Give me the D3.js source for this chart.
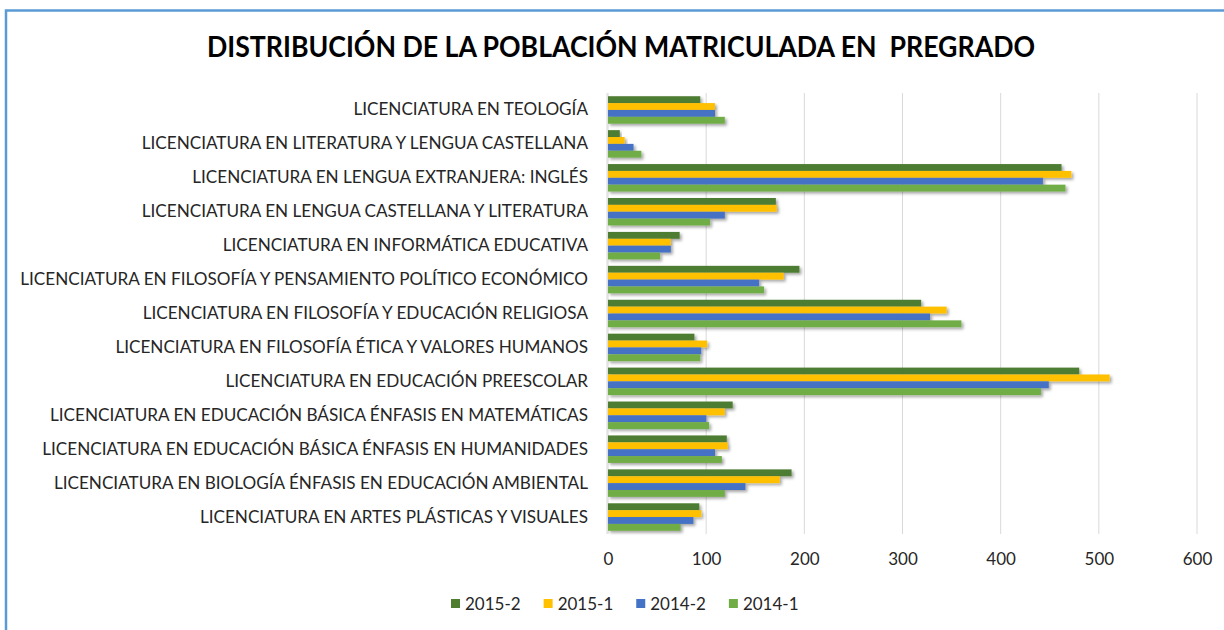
<!DOCTYPE html>
<html>
<head>
<meta charset="utf-8">
<title>Distribución de la población matriculada en pregrado</title>
<script src="https://cdn.jsdelivr.net/npm/d3@7"></script>
<style>
  body { margin: 0; background: #fff; }
  text { font-family: Lato, "Open Sans", sans-serif; fill: #262626; }
</style>
</head>
<body>
<svg id="chart"></svg>
<script>
  var categories = [
    'LICENCIATURA EN TEOLOGÍA',
    'LICENCIATURA EN LITERATURA Y LENGUA CASTELLANA',
    'LICENCIATURA EN LENGUA EXTRANJERA: INGLÉS',
    'LICENCIATURA EN LENGUA CASTELLANA Y LITERATURA',
    'LICENCIATURA EN INFORMÁTICA EDUCATIVA',
    'LICENCIATURA EN FILOSOFÍA Y PENSAMIENTO POLÍTICO ECONÓMICO',
    'LICENCIATURA EN FILOSOFÍA Y EDUCACIÓN RELIGIOSA',
    'LICENCIATURA EN FILOSOFÍA ÉTICA Y VALORES HUMANOS',
    'LICENCIATURA EN EDUCACIÓN PREESCOLAR',
    'LICENCIATURA EN EDUCACIÓN BÁSICA ÉNFASIS EN MATEMÁTICAS',
    'LICENCIATURA EN EDUCACIÓN BÁSICA ÉNFASIS EN HUMANIDADES',
    'LICENCIATURA EN BIOLOGÍA ÉNFASIS EN EDUCACIÓN AMBIENTAL',
    'LICENCIATURA EN ARTES PLÁSTICAS Y VISUALES'
  ];
  var seriesNames = ['2015-2', '2015-1', '2014-2', '2014-1'];
  var v2015_2 = [94, 12, 462, 171, 73, 195, 319, 88, 480, 127, 121, 187, 93];
  var v2015_1 = [109, 17, 472, 172, 64, 179, 345, 101, 511, 119, 122, 175, 95];
  var v2014_2 = [109, 26, 443, 119, 64, 154, 328, 95, 449, 100, 109, 140, 87];
  var v2014_1 = [119, 34, 466, 104, 53, 159, 360, 94, 441, 103, 116, 119, 74];
  var xTicks = [0, 100, 200, 300, 400, 500, 600];
  var colors = ['#4E7D30', '#FFC000', '#4472C4', '#70AD47'];

  var series = [v2015_2, v2015_1, v2014_2, v2014_1];

  var width = 1224, height = 630;
  var plot = { left: 608, right: 1197, top: 93, bottom: 534 };

  var svg = d3.select('#chart')
    .attr('width', width)
    .attr('height', height);

  var defs = svg.append('defs');
  var f = defs.append('filter').attr('id', 'shadow')
    .attr('x', '-5%').attr('y', '-50%').attr('width', '120%').attr('height', '250%');
  f.append('feDropShadow')
    .attr('dx', 2).attr('dy', 2)
    .attr('stdDeviation', 1.5)
    .attr('flood-color', '#000')
    .attr('flood-opacity', 0.35);

  // chart border (only top and left edges visible)
  svg.append('rect')
    .attr('x', 6).attr('y', 10.5)
    .attr('width', width + 20).attr('height', height + 20)
    .attr('fill', 'none')
    .attr('stroke', '#5B9BD5')
    .attr('stroke-width', 2.5);

  // title (keeps the double space before PREGRADO)
  svg.append('text')
    .attr('x', 621)
    .attr('y', 57)
    .attr('text-anchor', 'middle')
    .attr('textLength', 828)
    .attr('lengthAdjust', 'spacingAndGlyphs')
    .style('white-space', 'pre')
    .style('font-size', '28px')
    .style('font-weight', 'bold')
    .style('fill', '#000')
    .text('DISTRIBUCIÓN DE LA POBLACIÓN MATRICULADA EN  PREGRADO');

  var x = d3.scaleLinear()
    .domain([0, 600])
    .range([plot.left, plot.right]);

  var y = d3.scaleBand()
    .domain(categories)
    .range([plot.top, plot.bottom])
    .paddingInner(0.19)
    .paddingOuter(0.095);

  var ySub = d3.scaleBand()
    .domain(seriesNames)
    .range([0, y.bandwidth()]);

  // gridlines
  svg.append('g')
    .selectAll('line')
    .data(xTicks)
    .enter()
    .append('line')
    .attr('x1', d => x(d)).attr('x2', d => x(d))
    .attr('y1', plot.top).attr('y2', plot.bottom)
    .attr('stroke', '#d9d9d9')
    .attr('stroke-width', 1);

  // x axis labels
  var xAxis = d3.axisBottom(x)
    .tickValues(xTicks)
    .tickSize(0)
    .tickPadding(0);

  var gx = svg.append('g')
    .attr('transform', 'translate(0,' + 553 + ')')
    .call(xAxis);
  gx.select('.domain').remove();
  gx.selectAll('text')
    .style('font-size', '17px')
    .style('font-family', 'Lato, sans-serif')
    .attr('fill', '#404040');

  // bars
  var groups = svg.append('g')
    .selectAll('g')
    .data(categories)
    .enter()
    .append('g')
    .attr('transform', d => 'translate(0,' + y(d) + ')');

  groups.selectAll('rect')
    .data((c, i) => series.map((s, j) => ({ name: seriesNames[j], value: s[i], color: colors[j] })))
    .enter()
    .append('rect')
    .attr('x', x(0))
    .attr('y', d => ySub(d.name))
    .attr('width', d => x(d.value) - x(0))
    .attr('height', ySub.bandwidth())
    .attr('fill', d => d.color)
    .attr('filter', 'url(#shadow)');

  // axis line at zero
  svg.append('line')
    .attr('x1', x(0) - 1).attr('x2', x(0) - 1)
    .attr('y1', plot.top).attr('y2', plot.bottom)
    .attr('stroke', '#d9d9d9');

  // category labels
  var yAxis = d3.axisLeft(y).tickSize(0).tickPadding(0);
  var gy = svg.append('g')
    .attr('transform', 'translate(588,0)')
    .call(yAxis);
  gy.select('.domain').remove();
  var labels = gy.selectAll('text')
    .style('font-size', '16px')
    .style('font-family', 'Lato, sans-serif')
    .attr('fill', '#262626');

  // fit longest label to the reference width
  var maxW = d3.max(labels.nodes(), n => n.getComputedTextLength());
  labels.style('font-size', (16 * 568 / maxW) + 'px');

  // legend
  var legend = svg.append('g').attr('transform', 'translate(451,604)');
  var lx = 0;
  seriesNames.forEach(function (name, i) {
    var item = legend.append('g').attr('transform', 'translate(' + lx + ',0)');
    item.append('rect')
      .attr('x', 0).attr('y', -5)
      .attr('width', 9).attr('height', 9)
      .attr('fill', colors[i]);
    var t = item.append('text')
      .attr('x', 14)
      .attr('y', 6)
      .style('font-size', '17px')
      .attr('fill', '#404040')
      .text(name);
    lx += 14 + t.node().getComputedTextLength() + 23;
  });
</script>
</body>
</html>
